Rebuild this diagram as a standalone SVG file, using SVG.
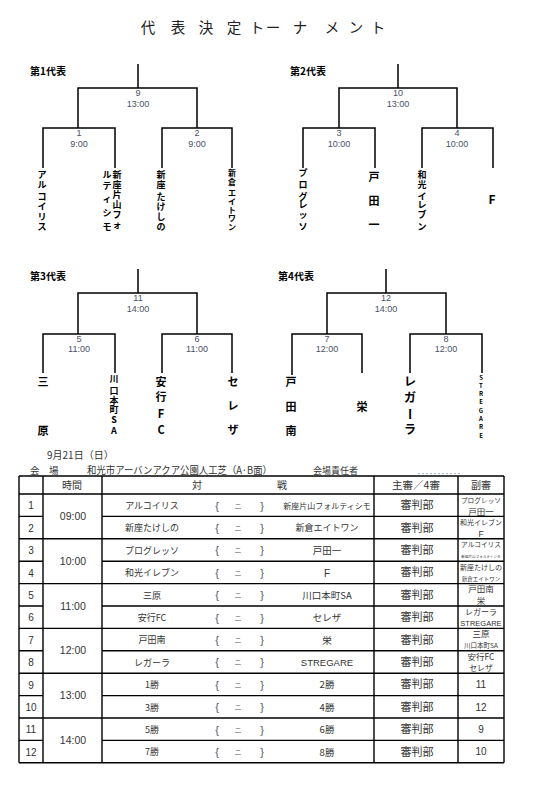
<svg xmlns="http://www.w3.org/2000/svg" width="551" height="788" viewBox="0 0 551 788">
<style>
.bg{fill:#fff}
.ln{fill:none;stroke:#000;stroke-width:1.5}
.tl{fill:none;stroke:#000;stroke-width:1.4}
.jp{font-family:"Noto Sans CJK JP",sans-serif}
.tm{font-family:"Noto Sans CJK JP",sans-serif;font-weight:700;fill:#000;text-anchor:middle}
.mt{font-family:"Liberation Sans",sans-serif;font-size:9px;fill:#4a5068;text-anchor:middle}
.hd{font-family:"Noto Sans CJK JP",sans-serif;font-weight:700;font-size:10px;fill:#000}
.c{font-family:"Liberation Sans","Noto Sans CJK JP",sans-serif;fill:#333;text-anchor:middle}
.cj{font-family:"Noto Sans CJK JP",sans-serif;fill:#333;text-anchor:middle}
.br{font-family:"Liberation Sans","Noto Sans CJK JP",sans-serif;font-size:11px;fill:#556;text-anchor:middle}
.dz{font-family:"Noto Sans CJK JP",sans-serif;font-size:7px;fill:#556;text-anchor:middle}
</style>
<rect class="bg" width="551" height="788"/>
<text class="jp" font-size="14.5" fill="#222" text-anchor="middle" y="33" x="148 163 178 192 206 220 234 246 257 265 273 286 300 316 332 345 356 367 378">代 表 決 定 ト ー ナ メ ン ト</text>

<g id="headings">
<text class="hd" x="30" y="75">第1代表</text>
<text class="hd" x="290" y="75">第2代表</text>
<text class="hd" x="30" y="280">第3代表</text>
<text class="hd" x="278" y="280">第4代表</text>
</g>

<g id="connectors">
<path class="ln" d="M138 64V88M78 128V88H197V128M43 168V128H115V168M162 168V128H232V168"/>
<path class="ln" d="M398 64V88M339 128V88H457V128M303 168V128H375V168M422 168V128H493V168"/>
<path class="ln" d="M138 269V293M78 334V293H197V334M43 373V334H115V373M162 373V334H232V373"/>
<path class="ln" d="M386 269V293M327 334V293H446V334M292 375V334H362V373M410 373V334H482V373"/>
</g>

<g id="m9"><text class="mt" x="138" y="95.5">9</text><text class="mt" x="138" y="106.5">13:00</text></g>
<g id="m1"><text class="mt" x="79" y="135.5">1</text><text class="mt" x="79" y="146.5">9:00</text></g>
<g id="m2"><text class="mt" x="197" y="135.5">2</text><text class="mt" x="197" y="146.5">9:00</text></g>
<g id="m10"><text class="mt" x="398" y="95.5">10</text><text class="mt" x="398" y="106.5">13:00</text></g>
<g id="m3"><text class="mt" x="339" y="135.5">3</text><text class="mt" x="339" y="146.5">10:00</text></g>
<g id="m4"><text class="mt" x="457" y="135.5">4</text><text class="mt" x="457" y="146.5">10:00</text></g>
<g id="m11"><text class="mt" x="138" y="300.5">11</text><text class="mt" x="138" y="311.5">14:00</text></g>
<g id="m5"><text class="mt" x="79" y="341.5">5</text><text class="mt" x="79" y="352">11:00</text></g>
<g id="m6"><text class="mt" x="197" y="341.5">6</text><text class="mt" x="197" y="352">11:00</text></g>
<g id="m12"><text class="mt" x="386" y="300.5">12</text><text class="mt" x="386" y="311.5">14:00</text></g>
<g id="m7"><text class="mt" x="327" y="341.5">7</text><text class="mt" x="327" y="352">12:00</text></g>
<g id="m8"><text class="mt" x="446" y="341.5">8</text><text class="mt" x="446" y="352">12:00</text></g>

<g id="t-arukoirisu"><text class="tm" font-size="9" x="42 42 42 42 42 42" y="178 188 200 210 220 230">アルコイリス</text></g>
<g id="t-niiza-katayama"><text class="tm" font-size="9" x="117 117 117 117 117 117 107 107 107 107 107" y="178 188 198 208 218 228 178 189 202 216 230">新座片山フォルティシモ</text></g>
<g id="t-niiza-takeshino"><text class="tm" font-size="9" x="161 161 161 161 161 161" y="178 188 200 210 220 230">新座たけしの</text></g>
<g id="t-niikura"><text class="tm" font-size="8" x="232 232 232 232 232 232 232" y="176 185 196 205 213 221 230">新倉エイトワン</text></g>
<g id="t-progresso"><text class="tm" font-size="9" x="303 303 303 303 303 303" y="176 188 200 208 218 230">プログレッソ</text></g>
<g id="t-todaichi"><text class="tm" font-size="11" x="374 374 374" y="181 205 229">戸田一</text></g>
<g id="t-wako"><text class="tm" font-size="9" x="422 422 422 422 422 422" y="178 188 200 208 218 230">和光イレブン</text></g>
<g id="t-f"><text class="tm" font-size="12" x="492" y="204">F</text></g>
<g id="t-mihara"><text class="tm" font-size="11" x="43 43" y="386 435">三原</text></g>
<g id="t-kawaguchi"><text class="tm" font-size="9" x="114 114 114 114 114 114" y="382 394 404 413 423 434">川口本町SA</text></g>
<g id="t-angyo"><text class="tm" font-size="11" x="161 161 161 161" y="386 401 418 434">安行FC</text></g>
<g id="t-sereza"><text class="tm" font-size="11" x="233 233 233" y="386 410 434">セレザ</text></g>
<g id="t-todaminami"><text class="tm" font-size="11" x="291 291 291" y="386 411 435">戸田南</text></g>
<g id="t-sakae"><text class="tm" font-size="11" x="362" y="411">栄</text></g>
<g id="t-regara"><text class="tm" font-size="12" x="410 410" y="386 402">レガ</text><text class="tm" font-size="12" x="410" y="414" dominant-baseline="central" transform="rotate(90 410 414)">ー</text><text class="tm" font-size="12" x="410" y="434">ラ</text></g>
<g id="t-stregare"><text class="tm" font-size="6" x="481 481 481 481 481 481 481 481" y="380 388 396 404 413 421 429 438">STREGARE</text></g>

<g id="info">
<text class="jp" font-size="10" fill="#333" x="47" y="459">9月21日（日）</text>
<text class="jp" font-size="9.5" fill="#333" x="30" y="474">会　場</text>
<text class="jp" font-size="10" fill="#333" x="87" y="474" textLength="185" lengthAdjust="spacingAndGlyphs">和光市アーバンアクア公園人工芝（A·B面）</text>
<text class="jp" font-size="9" fill="#333" x="313" y="474">会場責任者</text>
<line x1="418" y1="473.5" x2="462" y2="473.5" stroke="#9ab" stroke-width="0.8" stroke-dasharray="2 2"/>
</g>

<g id="table">
<path class="tl" stroke-width="2" d="M19 476H504"/>
<path class="tl" d="M19 494H504M19 538.8H504M19 583.6H504M19 628.4H504M19 673.2H504M19 718H504M19 762.8H504"/>
<path class="tl" stroke-width="1.1" d="M19 516.4H43M102 516.4H504M19 561.2H43M102 561.2H504M19 606H43M102 606H504M19 650.8H43M102 650.8H504M19 695.6H43M102 695.6H504M19 740.4H43M102 740.4H504"/>
<path class="tl" d="M19 476V762.8M43 476V762.8M102 476V762.8M374 476V762.8M458 476V762.8M504 476V762.8"/>
<text class="cj" font-size="10" x="72" y="489">時間</text>
<text class="cj" font-size="10" x="197" y="489">対</text>
<text class="cj" font-size="10" x="282" y="489">戦</text>
<text class="cj" font-size="10.5" x="416" y="489">主審／4審</text>
<text class="cj" font-size="10" x="481" y="489">副審</text>

<g font-size="10">
<text class="c" x="31" y="509.4">1</text>
<text class="c" x="31" y="531.8">2</text>
<text class="c" x="31" y="554.2">3</text>
<text class="c" x="31" y="576.6">4</text>
<text class="c" x="31" y="599">5</text>
<text class="c" x="31" y="621.4">6</text>
<text class="c" x="31" y="643.8">7</text>
<text class="c" x="31" y="666.2">8</text>
<text class="c" x="31" y="688.6">9</text>
<text class="c" x="31" y="711">10</text>
<text class="c" x="31" y="733.4">11</text>
<text class="c" x="31" y="755.8">12</text>
</g>
<g font-size="10.5">
<text class="c" x="73" y="520">09:00</text>
<text class="c" x="73" y="564.8">10:00</text>
<text class="c" x="73" y="609.6">11:00</text>
<text class="c" x="73" y="654.4">12:00</text>
<text class="c" x="73" y="699.2">13:00</text>
<text class="c" x="73" y="744">14:00</text>
</g>
<g font-size="9">
<text class="cj" x="152" y="509">アルコイリス</text>
<text class="cj" x="152" y="531.4">新座たけしの</text>
<text class="cj" x="152" y="553.8">プログレッソ</text>
<text class="cj" x="152" y="576.2">和光イレブン</text>
<text class="cj" x="152" y="598.6">三原</text>
<text class="cj" x="152" y="621">安行FC</text>
<text class="cj" x="152" y="643.4">戸田南</text>
<text class="cj" x="152" y="665.8">レガーラ</text>
<text class="cj" x="152" y="688.2">1勝</text>
<text class="cj" x="152" y="710.6">3勝</text>
<text class="cj" x="152" y="733">5勝</text>
<text class="cj" x="152" y="755.4">7勝</text>
</g>
<g>
<text class="br" x="217" y="509.5">{</text><text class="dz" x="238" y="508.5">ニ</text><text class="br" x="262" y="509.5">}</text>
<text class="br" x="217" y="531.9">{</text><text class="dz" x="238" y="530.9">ニ</text><text class="br" x="262" y="531.9">}</text>
<text class="br" x="217" y="554.3">{</text><text class="dz" x="238" y="553.3">ニ</text><text class="br" x="262" y="554.3">}</text>
<text class="br" x="217" y="576.7">{</text><text class="dz" x="238" y="575.7">ニ</text><text class="br" x="262" y="576.7">}</text>
<text class="br" x="217" y="599.1">{</text><text class="dz" x="238" y="598.1">ニ</text><text class="br" x="262" y="599.1">}</text>
<text class="br" x="217" y="621.5">{</text><text class="dz" x="238" y="620.5">ニ</text><text class="br" x="262" y="621.5">}</text>
<text class="br" x="217" y="643.9">{</text><text class="dz" x="238" y="642.9">ニ</text><text class="br" x="262" y="643.9">}</text>
<text class="br" x="217" y="666.3">{</text><text class="dz" x="238" y="665.3">ニ</text><text class="br" x="262" y="666.3">}</text>
<text class="br" x="217" y="688.7">{</text><text class="dz" x="238" y="687.7">ニ</text><text class="br" x="262" y="688.7">}</text>
<text class="br" x="217" y="711.1">{</text><text class="dz" x="238" y="710.1">ニ</text><text class="br" x="262" y="711.1">}</text>
<text class="br" x="217" y="733.5">{</text><text class="dz" x="238" y="732.5">ニ</text><text class="br" x="262" y="733.5">}</text>
<text class="br" x="217" y="755.9">{</text><text class="dz" x="238" y="754.9">ニ</text><text class="br" x="262" y="755.9">}</text>
</g>
<g>
<text class="cj" font-size="8" x="327" y="508.5">新座片山フォルティシモ</text>
<text class="cj" font-size="9" x="327" y="531.4">新倉エイトワン</text>
<text class="cj" font-size="9.5" x="327" y="554">戸田一</text>
<text class="c" font-size="10" x="327" y="576.6">F</text>
<text class="cj" font-size="9.5" x="327" y="598.8">川口本町SA</text>
<text class="cj" font-size="9.5" x="327" y="621.2">セレザ</text>
<text class="cj" font-size="9.5" x="327" y="643.6">栄</text>
<text class="c" font-size="9.5" x="327" y="666">STREGARE</text>
<text class="cj" font-size="9.5" x="327" y="688.4">2勝</text>
<text class="cj" font-size="9.5" x="327" y="710.8">4勝</text>
<text class="cj" font-size="9.5" x="327" y="733.2">6勝</text>
<text class="cj" font-size="9.5" x="327" y="755.6">8勝</text>
</g>
<g font-size="11">
<text class="cj" x="417" y="509.2">審判部</text>
<text class="cj" x="417" y="531.6">審判部</text>
<text class="cj" x="417" y="554">審判部</text>
<text class="cj" x="417" y="576.4">審判部</text>
<text class="cj" x="417" y="598.8">審判部</text>
<text class="cj" x="417" y="621.2">審判部</text>
<text class="cj" x="417" y="643.6">審判部</text>
<text class="cj" x="417" y="666">審判部</text>
<text class="cj" x="417" y="688.4">審判部</text>
<text class="cj" x="417" y="710.8">審判部</text>
<text class="cj" x="417" y="733.2">審判部</text>
<text class="cj" x="417" y="755.6">審判部</text>
</g>
<g>
<text class="cj" font-size="6.7" x="481" y="503">プログレッソ</text>
<text class="cj" font-size="8.5" x="481" y="514.5">戸田一</text>
<text class="cj" font-size="7" x="481" y="525.4">和光イレブン</text>
<text class="c" font-size="8.5" x="481" y="537">F</text>
<text class="cj" font-size="6.7" x="481" y="547.3">アルコイリス</text>
<text class="cj" font-size="3.6" x="481" y="558">新座片山フォルティシモ</text>
<text class="cj" font-size="7" x="481" y="570">新座たけしの</text>
<text class="cj" font-size="5.5" x="481" y="581">新倉エイトワン</text>
<text class="cj" font-size="8.5" x="481" y="592">戸田南</text>
<text class="cj" font-size="8.5" x="481" y="604">栄</text>
<text class="cj" font-size="8" x="481" y="614.5">レガーラ</text>
<text class="c" font-size="7.5" x="481" y="626">STREGARE</text>
<text class="cj" font-size="8.5" x="481" y="636.8">三原</text>
<text class="cj" font-size="6.5" x="481" y="648">川口本町SA</text>
<text class="cj" font-size="8.5" x="481" y="659.5">安行FC</text>
<text class="cj" font-size="7.8" x="481" y="671">セレザ</text>
<text class="c" font-size="10" x="481" y="688.2">11</text>
<text class="c" font-size="10" x="481" y="710.6">12</text>
<text class="c" font-size="10" x="481" y="733">9</text>
<text class="c" font-size="10" x="481" y="755.4">10</text>
</g>
</g>
</svg>
